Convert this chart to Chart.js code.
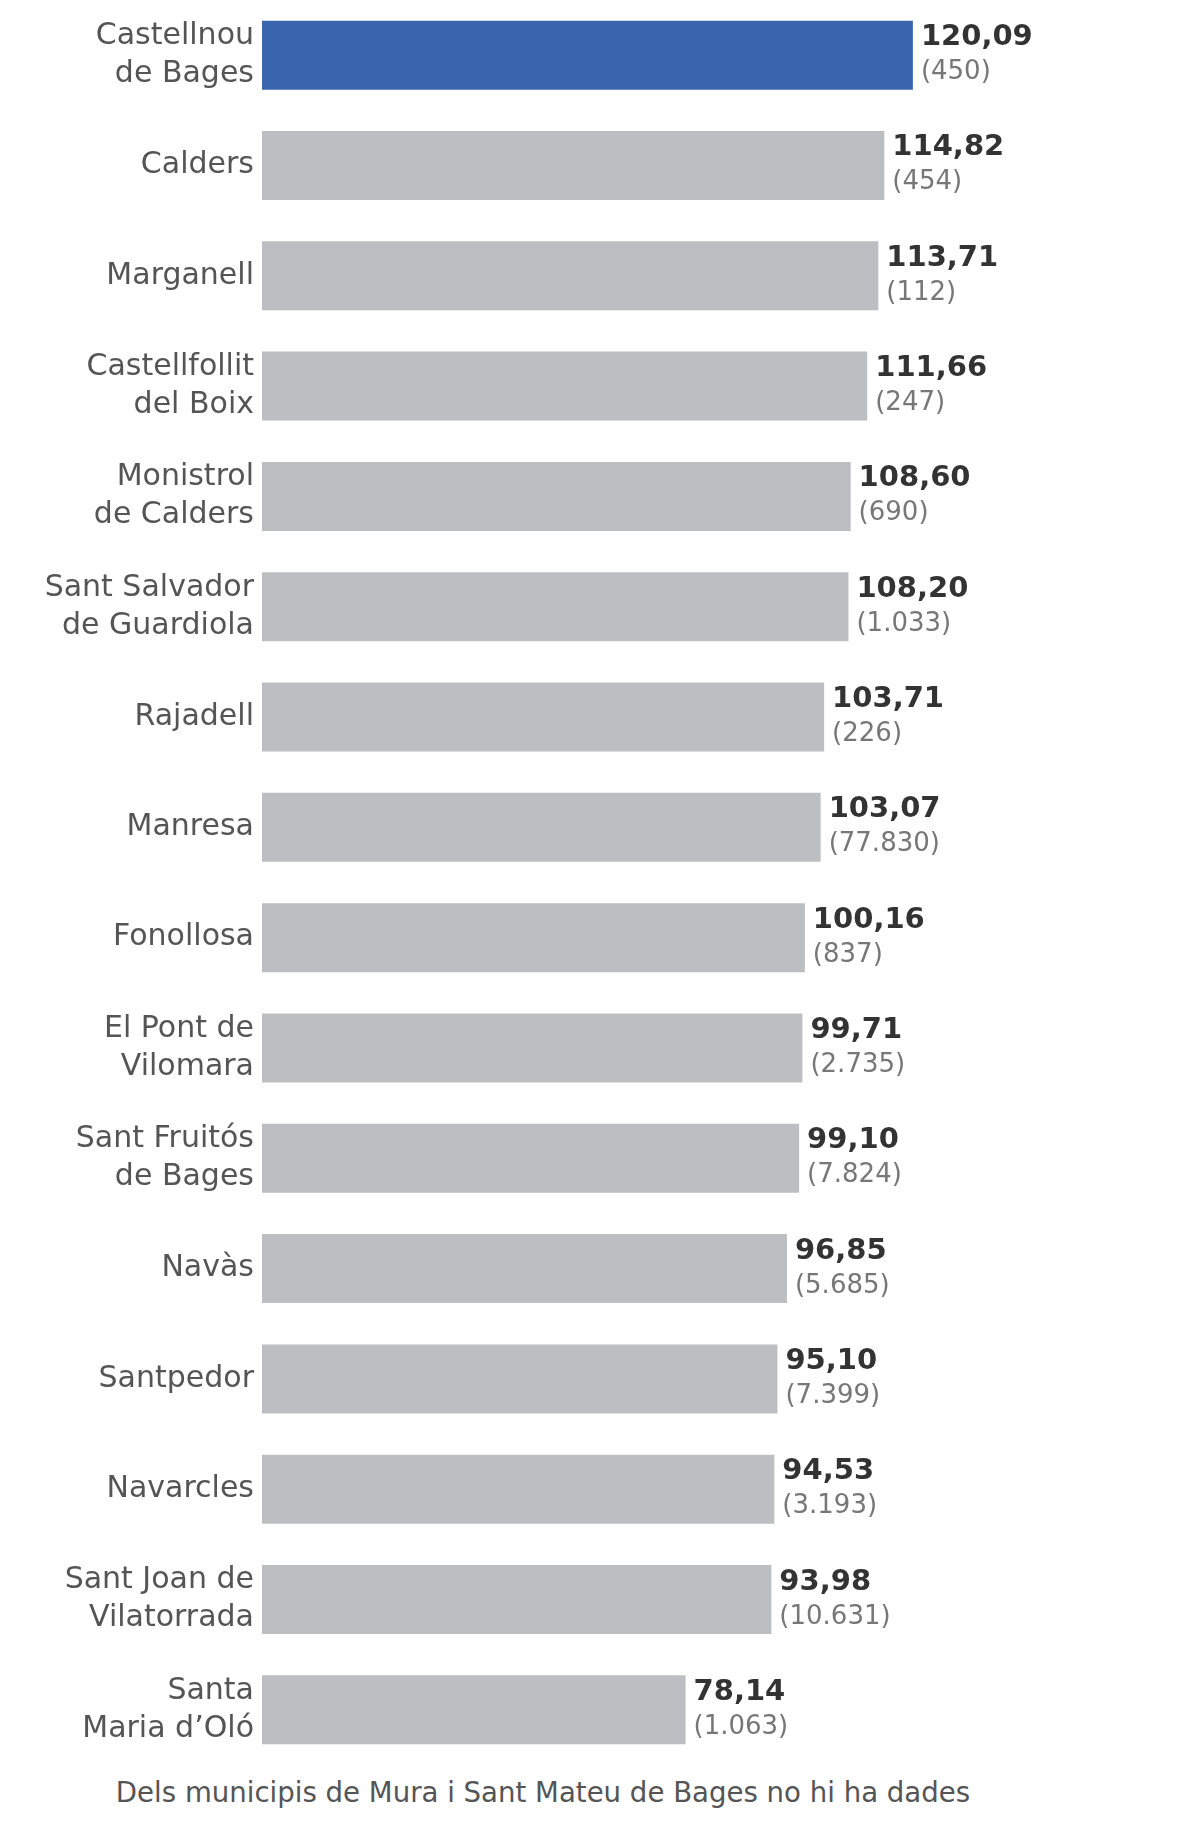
<!DOCTYPE html>
<html>
<head>
<meta charset="utf-8">
<script src="https://cdn.jsdelivr.net/npm/chart.js@4"></script>
<style>
    html, body { margin: 0; padding: 0; background: #fff; }
    #wrap { position: relative; width: 1200px; height: 1838px; }
    #chart { position: absolute; left: 0; top: 0; }
    #nota {
        position: absolute; left: 0; top: 1775px; width: 1086px;
        text-align: center; font: 27.6px/36px "DejaVu Sans", sans-serif; color: #555;
    }
</style>
</head>
<body>
<div id="wrap">
    <canvas id="chart" width="1200" height="1765"></canvas>
    <div id="nota">Dels municipis de Mura i Sant Mateu de Bages no hi ha dades</div>
</div>
<script>
// municipis (etiquetes en dues línies quan cal)
const municipis = [
    ['Castellnou', 'de Bages'], 'Calders', 'Marganell', ['Castellfollit', 'del Boix'],
    ['Monistrol', 'de Calders'], ['Sant Salvador', 'de Guardiola'], 'Rajadell', 'Manresa',
    'Fonollosa', ['El Pont de', 'Vilomara'], ['Sant Fruitós', 'de Bages'], 'Navàs',
    'Santpedor', 'Navarcles', ['Sant Joan de', 'Vilatorrada'], ['Santa', 'Maria d\u2019Oló']
];
const valors = [120.09, 114.82, 113.71, 111.66, 108.60, 108.20, 103.71, 103.07,
                100.16, 99.71, 99.10, 96.85, 95.10, 94.53, 93.98, 78.14];
const poblacio = [450, 454, 112, 247, 690, 1033, 226, 77830,
                  837, 2735, 7824, 5685, 7399, 3193, 10631, 1063];
const destacat = 0;

const colorBlau = '#3b66ad';
const colorGris = '#bdbec1';

function formatValor(v) {
    return v.toFixed(2).replace('.', ',');
}
function formatPoblacio(n) {
    return '(' + String(n).replace(/\B(?=(\d{3})+(?!\d))/g, '.') + ')';
}

// etiquetes de valor a la dreta de cada barra
const valueLabels = {
    id: 'valueLabels',
    afterDatasetsDraw(chart) {
        const ctx = chart.ctx;
        const meta = chart.getDatasetMeta(0);
        ctx.save();
        ctx.textAlign = 'left';
        ctx.textBaseline = 'alphabetic';
        meta.data.forEach((bar, i) => {
            const x = bar.x + 8;
            ctx.fillStyle = '#333';
            ctx.font = 'bold 29px "DejaVu Sans", sans-serif';
            ctx.fillText(formatValor(valors[i]), x, bar.y - 10);
            ctx.fillStyle = '#777';
            ctx.font = '26px "DejaVu Sans", sans-serif';
            ctx.fillText(formatPoblacio(poblacio[i]), x, bar.y + 24);
        });
        ctx.restore();
    }
};

new Chart(document.getElementById('chart'), {
    type: 'bar',
    data: {
        labels: municipis,
        datasets: [{
            data: valors,
            backgroundColor: valors.map((v, i) => i === destacat ? colorBlau : colorGris),
            borderWidth: 0,
            barPercentage: 0.626,
            categoryPercentage: 1
        }]
    },
    options: {
        indexAxis: 'y',
        responsive: false,
        animation: false,
        layout: { padding: { left: 0, right: 125, top: 0, bottom: 0 } },
        plugins: {
            legend: { display: false },
            tooltip: { enabled: false }
        },
        scales: {
            x: { display: false, min: 0, max: 150 },
            y: {
                grid: { display: false, drawTicks: false },
                border: { display: false },
                ticks: {
                    autoSkip: false,
                    padding: 8,
                    color: '#555',
                    font: { family: '"DejaVu Sans", sans-serif', size: 30, lineHeight: 38 / 30 }
                },
                afterFit(scale) {
                    // amplada fixa de l'eix i sense marge extra dalt/baix
                    scale.width = 262;
                    scale.paddingTop = 0;
                    scale.paddingBottom = 0;
                }
            }
        }
    },
    plugins: [valueLabels]
});
</script>
</body>
</html>
